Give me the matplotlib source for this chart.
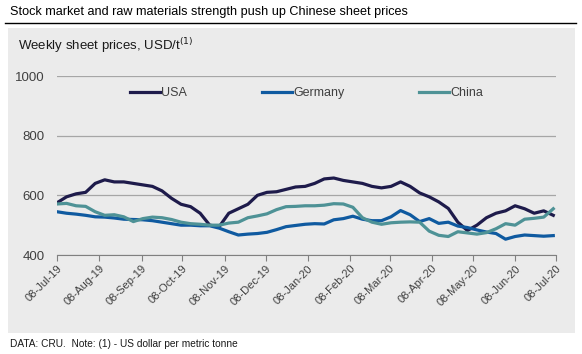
import pandas as pd
import numpy as np
import matplotlib
matplotlib.use('Agg')
import matplotlib.pyplot as plt
from matplotlib.patches import Rectangle
from matplotlib.lines import Line2D

plt.rcParams['font.family'] = ['Liberation Sans', 'DejaVu Sans']

# weekly prices, USD/t, from 08-Jul-19
weeks = pd.date_range('2019-07-08', periods=53, freq='7D')
usa = [575, 595, 605, 610, 640, 652, 645, 645, 640, 635, 630, 615, 590, 570,
       562, 540, 500, 495, 540, 555, 570, 600, 610, 612, 620, 628, 630, 640,
       655, 658, 650, 645, 640, 630, 625, 630, 645, 630, 608, 595, 578, 556,
       510, 482, 500, 525, 540, 548, 565, 555, 540, 548, 533]
germany = [545, 540, 537, 533, 528, 527, 524, 520, 519, 518, 515, 510, 505, 500,
           500, 498, 498, 490, 478, 467, 470, 472, 476, 485, 495, 499, 503, 505,
           504, 518, 522, 530, 520, 515, 515, 528, 549, 535, 512, 522, 506, 510,
           497, 492, 484, 477, 472, 453, 462, 467, 465, 463, 465]
china = [571, 573, 565, 563, 545, 533, 535, 528, 512, 522, 527, 525, 519, 510,
         505, 503, 500, 500, 507, 510, 525, 531, 538, 552, 562, 563, 565, 565,
         567, 572, 571, 560, 525, 510, 503, 508, 510, 511, 510, 480, 466, 462,
         478, 474, 470, 475, 488, 505, 500, 520, 523, 527, 555]

tick_dates = pd.date_range('2019-07-08', periods=13, freq=pd.DateOffset(months=1))
tick_labels = [d.strftime('%d-%b-%y') for d in tick_dates]

fig = plt.figure(figsize=(5.82, 3.54), dpi=100)

# grey panel and title rule
fig.patches.append(Rectangle((8/582, 21/354), 567/582, 305/354, transform=fig.transFigure,
                             facecolor='#ebebeb', edgecolor='none', zorder=-5))
fig.lines.append(Line2D([5/582, 576/582], [331/354, 331/354], transform=fig.transFigure,
                        color='black', lw=1, zorder=-5))
fig.text(10/582, 339/354, 'Stock market and raw materials strength push up Chinese sheet prices',
         fontsize=9.1, va='baseline', color='black')
fig.text(18/582, 304/354, 'Weekly sheet prices, USD/t$^{(1)}$', fontsize=9.5, va='baseline', color='#1a1a1a')
fig.text(10/582, 7/354, 'DATA: CRU.  Note: (1) - US dollar per metric tonne', fontsize=7.3,
         va='baseline', color='#1a1a1a')

ax = fig.add_axes([57/582, 99/354, 499/582, 179/354])
ax.set_facecolor('none')
ax.plot(weeks, usa, color='#1e1b4b', lw=2.3, label='USA')
ax.plot(weeks, germany, color='#0f5aa0', lw=2.3, label='Germany')
ax.plot(weeks, china, color='#4e9296', lw=2.3, label='China')

ax.set_ylim(400, 1000)
ax.set_xlim(tick_dates[0], tick_dates[-1])
ax.set_yticks([400, 600, 800, 1000])
ax.grid(axis='y', color='#a6a6a6', lw=0.9)
ax.set_axisbelow(True)
for s in ['top', 'right', 'left']:
    ax.spines[s].set_visible(False)
ax.spines['bottom'].set_color('#808080')
ax.tick_params(axis='y', length=0, labelsize=9.5, colors='#404040', pad=9)
ax.set_xticks(tick_dates)
ax.set_xticklabels(tick_labels, rotation=45, ha='right', rotation_mode='anchor')
ax.tick_params(axis='x', length=4, color='#808080', labelsize=8, labelcolor='#404040', pad=2)

ax.legend(loc='upper center', bbox_to_anchor=(0.5, 1.0), ncol=3, frameon=False,
          fontsize=9, handlelength=2.4, handletextpad=0.1, columnspacing=6.0,
          labelcolor='#404040')

fig.savefig('out.png', dpi=100)
